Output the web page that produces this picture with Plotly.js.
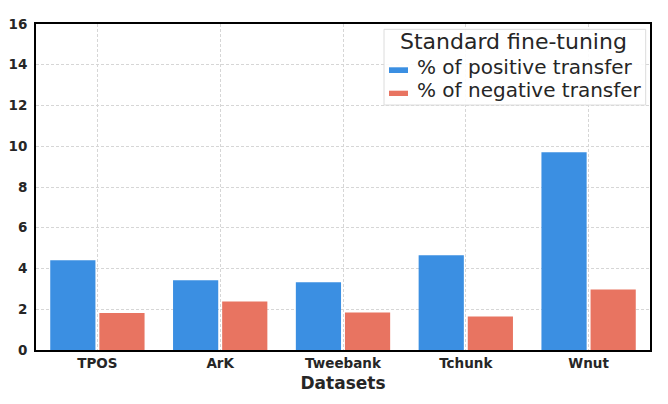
<!DOCTYPE html>
<html>
<head>
<meta charset="utf-8">
<script src="https://cdn.plot.ly/plotly-3.0.1.min.js"></script>
<style>html,body{margin:0;padding:0;background:#fff;}#chart{width:668px;height:404px;}</style>
</head>
<body>
<div id="chart"></div>
<script>
const categories = ["TPOS", "ArK", "Tweebank", "Tchunk", "Wnut"];
const positiveTransfer = [4.40, 3.42, 3.32, 4.65, 9.71];
const negativeTransfer = [1.81, 2.38, 1.84, 1.65, 2.97];
const yTicks = [0, 2, 4, 6, 8, 10, 12, 14, 16];
const seriesNames = ["% of positive transfer", "% of negative transfer"];
const seriesColors = ["#3b8fe2", "#e87461"];
const legendTitle = "Standard fine-tuning";

const traces = [
  {type: "bar", name: seriesNames[0], x: categories, y: positiveTransfer,
   marker: {color: seriesColors[0], line: {width: 0}}, showlegend: false},
  {type: "bar", name: seriesNames[1], x: categories, y: negativeTransfer,
   marker: {color: seriesColors[1], line: {width: 0}}, showlegend: false}
];

// Legend drawn in paper coordinates (box, swatches, labels)
const txtColor = "#262626";
const shapes = [
  {type: "rect", xref: "paper", yref: "paper", x0: 0.5668, x1: 0.993, y0: 0.7515, y1: 0.9837,
   fillcolor: "rgba(255,255,255,0.9)", line: {color: "#dcdcdc", width: 1}, layer: "above"}
];
const annotations = [
  {xref: "paper", yref: "paper", x: 0.778, y: 0.9457, xanchor: "center", yanchor: "middle",
   text: legendTitle, showarrow: false, font: {family: "DejaVu Sans", size: 22, color: txtColor}}
];
const swY = [[0.8497, 0.8672], [0.7791, 0.7954]];
const lblY = [0.869, 0.7975];
seriesNames.forEach((nm, i) => {
  shapes.push({type: "rect", xref: "paper", yref: "paper", x0: 0.5749, x1: 0.6059,
    y0: swY[i][0], y1: swY[i][1], fillcolor: seriesColors[i], line: {width: 0}, layer: "above"});
  annotations.push({xref: "paper", yref: "paper", x: 0.620, y: lblY[i], xanchor: "left", yanchor: "middle",
    xshift: -2, text: nm, showarrow: false, font: {family: "DejaVu Sans", size: 20, color: txtColor}});
});

const layout = {
  width: 668, height: 404,
  margin: {l: 36, r: 18, t: 24, b: 54},
  paper_bgcolor: "#fff", plot_bgcolor: "#fff",
  font: {family: "DejaVu Sans", color: txtColor},
  barmode: "group", bargap: 0.20, bargroupgap: 0.08,
  showlegend: false,
  xaxis: {
    range: [-0.5, 4.5],
    showline: true, linecolor: "#000", linewidth: 2, mirror: true,
    showgrid: true, gridcolor: "#d6d6d6", griddash: "3px,2px", gridwidth: 1,
    ticks: "", tickfont: {family: "DejaVu Sans", size: 13.5, weight: "bold", color: txtColor},
    title: {text: "Datasets", font: {family: "DejaVu Sans", size: 17, weight: "bold", color: txtColor}, standoff: 7},
    zeroline: false
  },
  yaxis: {
    range: [0, 16], tickvals: yTicks, ticktext: yTicks.map(String),
    showline: true, linecolor: "#000", linewidth: 2, mirror: true,
    showgrid: true, gridcolor: "#d6d6d6", griddash: "3px,2px", gridwidth: 1,
    ticks: "", ticklabelstandoff: 4,
    tickfont: {family: "DejaVu Sans", size: 13.5, weight: "bold", color: txtColor},
    zeroline: false
  },
  shapes: shapes,
  annotations: annotations
};

Plotly.newPlot("chart", traces, layout, {displayModeBar: false, staticPlot: true});
</script>
</body>
</html>
